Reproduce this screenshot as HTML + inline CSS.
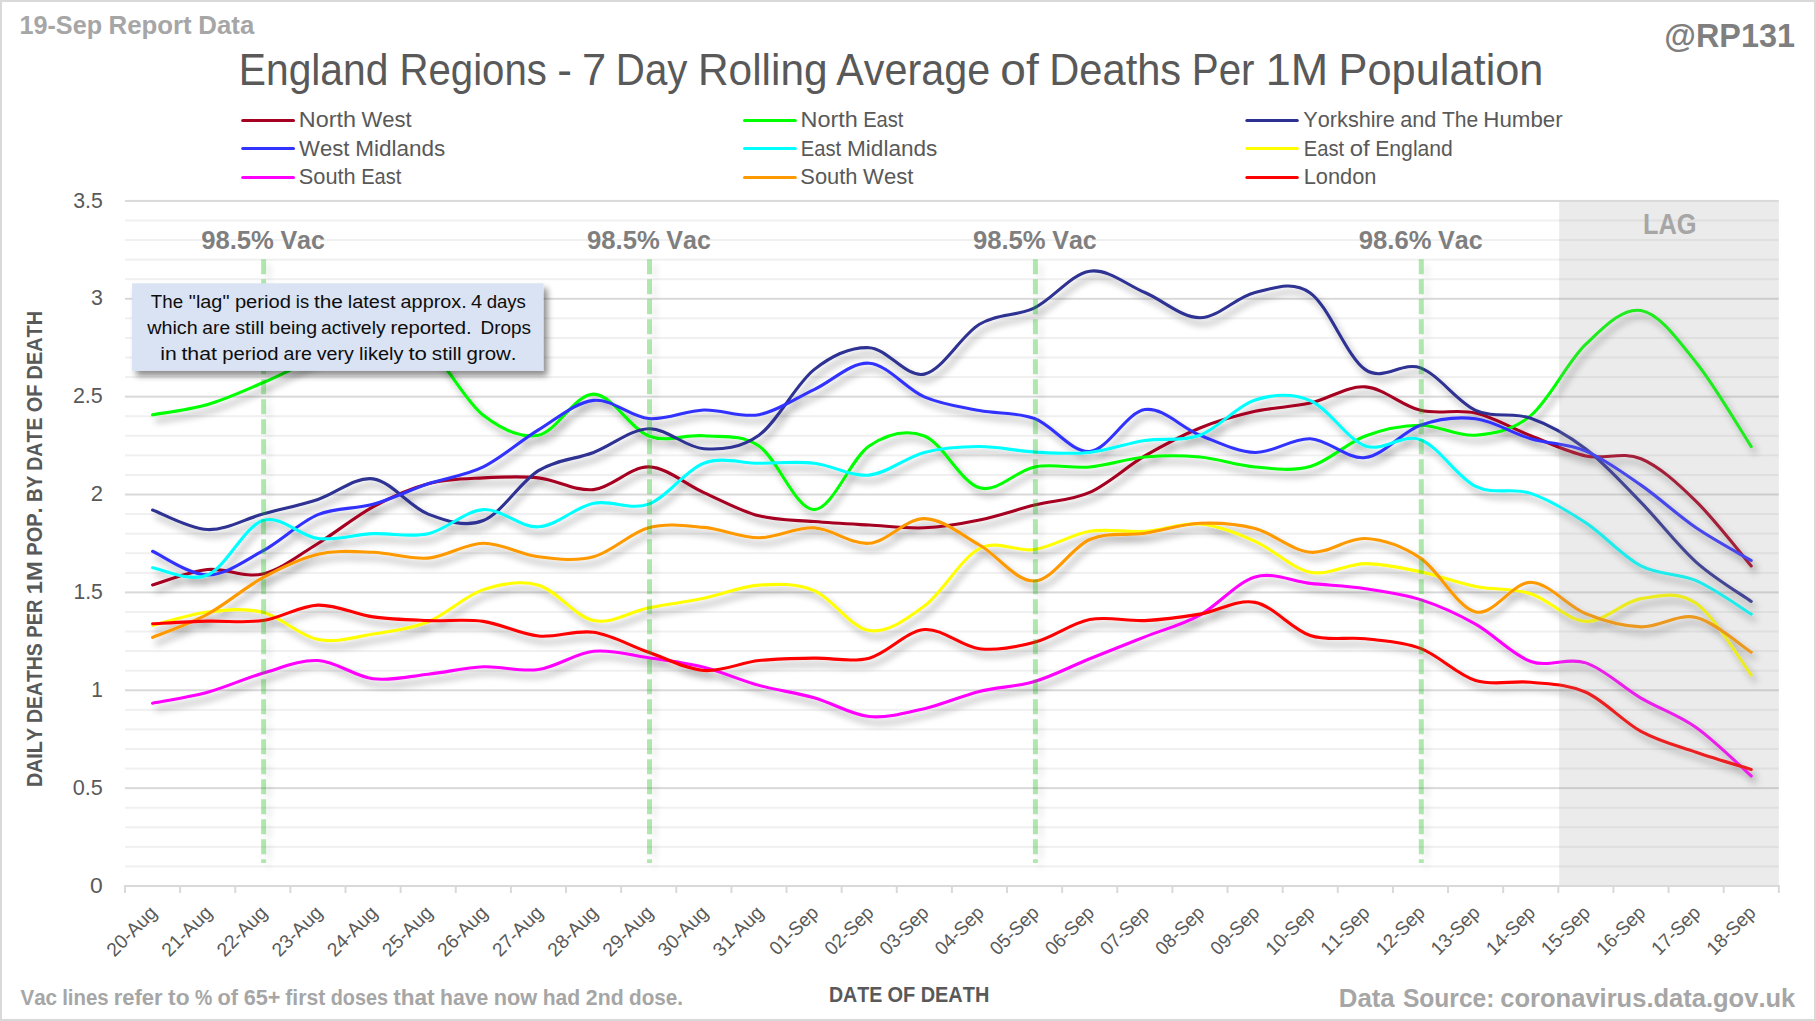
<!DOCTYPE html><html><head><meta charset="utf-8"><title>England Regions - 7 Day Rolling Average of Deaths Per 1M Population</title>
<style>html,body{margin:0;padding:0;background:#fff;}body{width:1816px;height:1021px;overflow:hidden;}svg{display:block;}text{font-family:'Liberation Sans', Arial, sans-serif;font-kerning:none;}</style></head><body>
<svg width="1816" height="1021" viewBox="0 0 1816 1021">
<defs><filter id="sh" x="-5%" y="-5%" width="110%" height="115%"><feGaussianBlur in="SourceAlpha" stdDeviation="3.6"/><feOffset dx="4" dy="6" result="b"/><feComponentTransfer><feFuncA type="linear" slope="0.36"/></feComponentTransfer><feMerge><feMergeNode/><feMergeNode in="SourceGraphic"/></feMerge></filter><filter id="shb" x="-10%" y="-10%" width="130%" height="140%"><feGaussianBlur in="SourceAlpha" stdDeviation="3"/><feOffset dx="4" dy="5"/><feComponentTransfer><feFuncA type="linear" slope="0.45"/></feComponentTransfer><feMerge><feMergeNode/><feMergeNode in="SourceGraphic"/></feMerge></filter><filter id="shv" x="-200%" y="-5%" width="500%" height="110%"><feGaussianBlur in="SourceAlpha" stdDeviation="3"/><feOffset dx="5" dy="5"/><feComponentTransfer><feFuncA type="linear" slope="0.25"/></feComponentTransfer><feMerge><feMergeNode/><feMergeNode in="SourceGraphic"/></feMerge></filter></defs>
<rect x="0" y="0" width="1816" height="1021" fill="#fff"/>
<rect x="125.0" y="865.43" width="1653.8" height="2" fill="#f0f0f0"/>
<rect x="125.0" y="845.85" width="1653.8" height="2" fill="#f0f0f0"/>
<rect x="125.0" y="826.28" width="1653.8" height="2" fill="#f0f0f0"/>
<rect x="125.0" y="806.70" width="1653.8" height="2" fill="#f0f0f0"/>
<rect x="125.0" y="787.13" width="1653.8" height="2" fill="#d9d9d9"/>
<rect x="125.0" y="767.56" width="1653.8" height="2" fill="#f0f0f0"/>
<rect x="125.0" y="747.98" width="1653.8" height="2" fill="#f0f0f0"/>
<rect x="125.0" y="728.41" width="1653.8" height="2" fill="#f0f0f0"/>
<rect x="125.0" y="708.83" width="1653.8" height="2" fill="#f0f0f0"/>
<rect x="125.0" y="689.26" width="1653.8" height="2" fill="#d9d9d9"/>
<rect x="125.0" y="669.69" width="1653.8" height="2" fill="#f0f0f0"/>
<rect x="125.0" y="650.11" width="1653.8" height="2" fill="#f0f0f0"/>
<rect x="125.0" y="630.54" width="1653.8" height="2" fill="#f0f0f0"/>
<rect x="125.0" y="610.96" width="1653.8" height="2" fill="#f0f0f0"/>
<rect x="125.0" y="591.39" width="1653.8" height="2" fill="#d9d9d9"/>
<rect x="125.0" y="571.82" width="1653.8" height="2" fill="#f0f0f0"/>
<rect x="125.0" y="552.24" width="1653.8" height="2" fill="#f0f0f0"/>
<rect x="125.0" y="532.67" width="1653.8" height="2" fill="#f0f0f0"/>
<rect x="125.0" y="513.09" width="1653.8" height="2" fill="#f0f0f0"/>
<rect x="125.0" y="493.52" width="1653.8" height="2" fill="#d9d9d9"/>
<rect x="125.0" y="473.95" width="1653.8" height="2" fill="#f0f0f0"/>
<rect x="125.0" y="454.37" width="1653.8" height="2" fill="#f0f0f0"/>
<rect x="125.0" y="434.80" width="1653.8" height="2" fill="#f0f0f0"/>
<rect x="125.0" y="415.22" width="1653.8" height="2" fill="#f0f0f0"/>
<rect x="125.0" y="395.65" width="1653.8" height="2" fill="#d9d9d9"/>
<rect x="125.0" y="376.08" width="1653.8" height="2" fill="#f0f0f0"/>
<rect x="125.0" y="356.50" width="1653.8" height="2" fill="#f0f0f0"/>
<rect x="125.0" y="336.93" width="1653.8" height="2" fill="#f0f0f0"/>
<rect x="125.0" y="317.35" width="1653.8" height="2" fill="#f0f0f0"/>
<rect x="125.0" y="297.78" width="1653.8" height="2" fill="#d9d9d9"/>
<rect x="125.0" y="278.21" width="1653.8" height="2" fill="#f0f0f0"/>
<rect x="125.0" y="258.63" width="1653.8" height="2" fill="#f0f0f0"/>
<rect x="125.0" y="239.06" width="1653.8" height="2" fill="#f0f0f0"/>
<rect x="125.0" y="219.48" width="1653.8" height="2" fill="#f0f0f0"/>
<rect x="125.0" y="199.91" width="1653.8" height="2" fill="#d9d9d9"/>
<rect x="124.0" y="885.00" width="1655.8" height="2" fill="#d9d9d9"/>
<rect x="124.00" y="886.00" width="2" height="7" fill="#d9d9d9"/>
<rect x="179.13" y="886.00" width="2" height="7" fill="#d9d9d9"/>
<rect x="234.25" y="886.00" width="2" height="7" fill="#d9d9d9"/>
<rect x="289.38" y="886.00" width="2" height="7" fill="#d9d9d9"/>
<rect x="344.51" y="886.00" width="2" height="7" fill="#d9d9d9"/>
<rect x="399.63" y="886.00" width="2" height="7" fill="#d9d9d9"/>
<rect x="454.76" y="886.00" width="2" height="7" fill="#d9d9d9"/>
<rect x="509.89" y="886.00" width="2" height="7" fill="#d9d9d9"/>
<rect x="565.01" y="886.00" width="2" height="7" fill="#d9d9d9"/>
<rect x="620.14" y="886.00" width="2" height="7" fill="#d9d9d9"/>
<rect x="675.27" y="886.00" width="2" height="7" fill="#d9d9d9"/>
<rect x="730.39" y="886.00" width="2" height="7" fill="#d9d9d9"/>
<rect x="785.52" y="886.00" width="2" height="7" fill="#d9d9d9"/>
<rect x="840.65" y="886.00" width="2" height="7" fill="#d9d9d9"/>
<rect x="895.77" y="886.00" width="2" height="7" fill="#d9d9d9"/>
<rect x="950.90" y="886.00" width="2" height="7" fill="#d9d9d9"/>
<rect x="1006.03" y="886.00" width="2" height="7" fill="#d9d9d9"/>
<rect x="1061.15" y="886.00" width="2" height="7" fill="#d9d9d9"/>
<rect x="1116.28" y="886.00" width="2" height="7" fill="#d9d9d9"/>
<rect x="1171.41" y="886.00" width="2" height="7" fill="#d9d9d9"/>
<rect x="1226.53" y="886.00" width="2" height="7" fill="#d9d9d9"/>
<rect x="1281.66" y="886.00" width="2" height="7" fill="#d9d9d9"/>
<rect x="1336.79" y="886.00" width="2" height="7" fill="#d9d9d9"/>
<rect x="1391.91" y="886.00" width="2" height="7" fill="#d9d9d9"/>
<rect x="1447.04" y="886.00" width="2" height="7" fill="#d9d9d9"/>
<rect x="1502.17" y="886.00" width="2" height="7" fill="#d9d9d9"/>
<rect x="1557.29" y="886.00" width="2" height="7" fill="#d9d9d9"/>
<rect x="1612.42" y="886.00" width="2" height="7" fill="#d9d9d9"/>
<rect x="1667.55" y="886.00" width="2" height="7" fill="#d9d9d9"/>
<rect x="1722.67" y="886.00" width="2" height="7" fill="#d9d9d9"/>
<rect x="1777.80" y="886.00" width="2" height="7" fill="#d9d9d9"/>
<g fill="none" stroke-width="3.1" stroke-linecap="round" stroke-linejoin="round" filter="url(#sh)">
<path d="M152.56 584.95 C161.75 582.37 189.31 571.32 207.69 569.49 C226.07 567.66 244.44 578.33 262.82 573.99 C281.19 569.65 299.57 554.64 317.94 543.45 C336.32 532.27 354.69 516.80 373.07 506.85 C391.45 496.90 409.82 488.58 428.20 483.75 C446.57 478.93 464.95 478.86 483.32 477.88 C501.70 476.90 520.07 475.92 538.45 477.88 C556.83 479.84 575.20 491.45 593.58 489.63 C611.95 487.80 630.33 466.43 648.70 466.92 C667.08 467.41 685.45 484.41 703.83 492.56 C722.21 500.72 740.58 511.03 758.96 515.86 C777.33 520.68 795.71 520.00 814.08 521.53 C832.46 523.07 850.83 524.01 869.21 525.06 C887.59 526.10 905.96 528.64 924.34 527.80 C942.71 526.95 961.09 523.75 979.46 519.97 C997.84 516.18 1016.21 509.69 1034.59 505.09 C1052.97 500.49 1071.34 500.56 1089.72 492.37 C1108.09 484.18 1126.47 466.69 1144.84 455.96 C1163.22 445.23 1181.59 435.41 1199.97 427.97 C1218.35 420.53 1236.72 415.47 1255.10 411.33 C1273.47 407.19 1291.85 407.19 1310.22 403.11 C1328.60 399.03 1346.97 385.66 1365.35 386.86 C1383.73 388.07 1402.10 405.98 1420.48 410.35 C1438.85 414.72 1457.23 408.85 1475.60 413.09 C1493.98 417.33 1512.35 428.65 1530.73 435.80 C1549.11 442.94 1567.48 452.14 1585.86 455.96 C1604.23 459.78 1622.61 451.13 1640.98 458.70 C1659.36 466.27 1677.73 483.49 1696.11 501.37 C1714.49 519.25 1742.05 555.20 1751.24 565.97" stroke="#a50021"/>
<path d="M152.56 414.85 C161.75 413.12 189.31 409.83 207.69 404.48 C226.07 399.13 244.44 390.58 262.82 382.75 C281.19 374.92 299.57 364.97 317.94 357.50 C336.32 350.03 354.69 339.23 373.07 337.93 C391.45 336.62 409.82 336.79 428.20 349.67 C446.57 362.56 464.95 400.99 483.32 415.25 C501.70 429.50 520.07 438.73 538.45 435.21 C556.83 431.69 575.20 393.97 593.58 394.11 C611.95 394.24 630.33 429.04 648.70 435.99 C667.08 442.94 685.45 434.13 703.83 435.80 C722.21 437.46 740.58 433.68 758.96 445.98 C777.33 458.28 795.71 509.59 814.08 509.59 C832.46 509.59 850.83 458.24 869.21 445.98 C887.59 433.71 905.96 429.01 924.34 435.99 C942.71 442.98 961.09 482.71 979.46 487.86 C997.84 493.02 1016.21 470.41 1034.59 466.92 C1052.97 463.43 1071.34 468.58 1089.72 466.92 C1108.09 465.26 1126.47 458.60 1144.84 456.94 C1163.22 455.27 1181.59 455.27 1199.97 456.94 C1218.35 458.60 1236.72 465.32 1255.10 466.92 C1273.47 468.52 1291.85 471.68 1310.22 466.53 C1328.60 461.37 1346.97 442.88 1365.35 435.99 C1383.73 429.11 1402.10 425.36 1420.48 425.23 C1438.85 425.10 1457.23 436.81 1475.60 435.21 C1493.98 433.61 1512.35 430.81 1530.73 415.64 C1549.11 400.47 1567.48 361.71 1585.86 344.19 C1604.23 326.67 1622.61 307.49 1640.98 310.52 C1659.36 313.56 1677.73 339.72 1696.11 362.40 C1714.49 385.07 1742.05 432.54 1751.24 446.56" stroke="#00ff00"/>
<path d="M152.56 509.98 C161.75 513.25 189.31 528.87 207.69 529.56 C226.07 530.24 244.44 519.12 262.82 514.09 C281.19 509.07 299.57 505.29 317.94 499.41 C336.32 493.54 354.69 476.41 373.07 478.86 C391.45 481.31 409.82 507.15 428.20 514.09 C446.57 521.04 464.95 527.80 483.32 520.55 C501.70 513.31 520.07 481.99 538.45 470.64 C556.83 459.29 575.20 459.42 593.58 452.44 C611.95 445.45 630.33 429.37 648.70 428.75 C667.08 428.13 685.45 447.64 703.83 448.72 C722.21 449.79 740.58 448.39 758.96 435.21 C777.33 422.03 795.71 384.22 814.08 369.64 C832.46 355.06 850.83 346.96 869.21 347.71 C887.59 348.47 905.96 378.05 924.34 374.14 C942.71 370.23 961.09 335.29 979.46 324.23 C997.84 313.17 1016.21 316.62 1034.59 307.78 C1052.97 298.94 1071.34 273.73 1089.72 271.18 C1108.09 268.64 1126.47 284.75 1144.84 292.52 C1163.22 300.28 1181.59 317.77 1199.97 317.77 C1218.35 317.77 1236.72 296.66 1255.10 292.52 C1273.47 288.37 1291.85 280.05 1310.22 292.91 C1328.60 305.76 1346.97 357.14 1365.35 369.64 C1383.73 382.13 1402.10 361.09 1420.48 367.88 C1438.85 374.66 1457.23 401.97 1475.60 410.35 C1493.98 418.74 1512.35 411.75 1530.73 418.18 C1549.11 424.61 1567.48 434.88 1585.86 448.91 C1604.23 462.94 1622.61 483.49 1640.98 502.35 C1659.36 521.21 1677.73 545.54 1696.11 562.05 C1714.49 578.56 1742.05 594.84 1751.24 601.39" stroke="#2e3192"/>
<path d="M152.56 551.28 C161.75 555.23 189.31 575.03 207.69 574.97 C226.07 574.90 244.44 560.94 262.82 550.89 C281.19 540.85 299.57 522.45 317.94 514.68 C336.32 506.92 354.69 509.46 373.07 504.31 C391.45 499.15 409.82 489.99 428.20 483.75 C446.57 477.52 464.95 475.89 483.32 466.92 C501.70 457.95 520.07 441.02 538.45 429.93 C556.83 418.83 575.20 402.26 593.58 400.37 C611.95 398.48 630.33 416.97 648.70 418.57 C667.08 420.17 685.45 410.61 703.83 409.96 C722.21 409.31 740.58 418.05 758.96 414.66 C777.33 411.27 795.71 398.18 814.08 389.60 C832.46 381.02 850.83 361.97 869.21 363.18 C887.59 364.39 905.96 388.95 924.34 396.85 C942.71 404.74 961.09 406.93 979.46 410.55 C997.84 414.17 1016.21 411.75 1034.59 418.57 C1052.97 425.39 1071.34 452.96 1089.72 451.46 C1108.09 449.96 1126.47 412.28 1144.84 409.57 C1163.22 406.86 1181.59 428.07 1199.97 435.21 C1218.35 442.36 1236.72 451.85 1255.10 452.44 C1273.47 453.02 1291.85 437.89 1310.22 438.73 C1328.60 439.58 1346.97 459.78 1365.35 457.53 C1383.73 455.27 1402.10 431.69 1420.48 425.23 C1438.85 418.77 1457.23 416.52 1475.60 418.77 C1493.98 421.02 1512.35 433.35 1530.73 438.73 C1549.11 444.12 1567.48 443.33 1585.86 451.07 C1604.23 458.80 1622.61 472.34 1640.98 485.12 C1659.36 497.91 1677.73 515.24 1696.11 527.80 C1714.49 540.36 1742.05 555.04 1751.24 560.48" stroke="#3333ff"/>
<path d="M152.56 567.73 C161.75 568.93 189.31 582.83 207.69 574.97 C226.07 567.11 244.44 526.62 262.82 520.55 C281.19 514.49 299.57 536.38 317.94 538.56 C336.32 540.75 354.69 534.48 373.07 533.67 C391.45 532.85 409.82 537.68 428.20 533.67 C446.57 529.66 464.95 510.73 483.32 509.59 C501.70 508.45 520.07 527.86 538.45 526.82 C556.83 525.77 575.20 507.11 593.58 503.33 C611.95 499.54 630.33 510.80 648.70 504.11 C667.08 497.42 685.45 470.02 703.83 463.20 C722.21 456.38 740.58 463.20 758.96 463.20 C777.33 463.20 795.71 461.21 814.08 463.20 C832.46 465.19 850.83 476.94 869.21 475.14 C887.59 473.35 905.96 457.20 924.34 452.44 C942.71 447.67 961.09 446.63 979.46 446.56 C997.84 446.50 1016.21 451.07 1034.59 452.04 C1052.97 453.02 1071.34 454.36 1089.72 452.44 C1108.09 450.51 1126.47 443.37 1144.84 440.50 C1163.22 437.62 1181.59 441.96 1199.97 435.21 C1218.35 428.46 1236.72 405.75 1255.10 399.98 C1273.47 394.20 1291.85 392.90 1310.22 400.56 C1328.60 408.23 1346.97 439.45 1365.35 445.98 C1383.73 452.50 1402.10 432.99 1420.48 439.71 C1438.85 446.43 1457.23 477.36 1475.60 486.30 C1493.98 495.24 1512.35 487.24 1530.73 493.35 C1549.11 499.45 1567.48 510.80 1585.86 522.90 C1604.23 535.01 1622.61 556.34 1640.98 565.97 C1659.36 575.59 1677.73 572.62 1696.11 580.65 C1714.49 588.67 1742.05 608.54 1751.24 614.12" stroke="#00ffff"/>
<path d="M152.56 625.47 C161.75 623.22 189.31 614.15 207.69 611.96 C226.07 609.78 244.44 607.76 262.82 612.36 C281.19 616.96 299.57 635.94 317.94 639.56 C336.32 643.18 354.69 637.05 373.07 634.08 C391.45 631.11 409.82 629.16 428.20 621.75 C446.57 614.35 464.95 595.75 483.32 589.65 C501.70 583.55 520.07 579.99 538.45 585.15 C556.83 590.30 575.20 616.79 593.58 620.58 C611.95 624.36 630.33 611.57 648.70 607.85 C667.08 604.13 685.45 602.05 703.83 598.26 C722.21 594.48 740.58 586.42 758.96 585.15 C777.33 583.88 795.71 583.06 814.08 590.63 C832.46 598.20 850.83 627.98 869.21 630.56 C887.59 633.14 905.96 619.76 924.34 606.09 C942.71 592.42 961.09 557.97 979.46 548.54 C997.84 539.12 1016.21 552.39 1034.59 549.52 C1052.97 546.65 1071.34 534.35 1089.72 531.32 C1108.09 528.29 1126.47 532.53 1144.84 531.32 C1163.22 530.11 1181.59 522.41 1199.97 524.08 C1218.35 525.74 1236.72 533.28 1255.10 541.30 C1273.47 549.33 1291.85 568.51 1310.22 572.23 C1328.60 575.95 1346.97 563.68 1365.35 563.62 C1383.73 563.55 1402.10 568.02 1420.48 571.84 C1438.85 575.65 1457.23 582.86 1475.60 586.52 C1493.98 590.17 1512.35 587.95 1530.73 593.76 C1549.11 599.57 1567.48 620.54 1585.86 621.36 C1604.23 622.18 1622.61 601.66 1640.98 598.65 C1659.36 595.65 1677.73 590.63 1696.11 603.35 C1714.49 616.07 1742.05 663.05 1751.24 674.99" stroke="#ffff00"/>
<path d="M152.56 703.18 C161.75 701.35 189.31 697.21 207.69 692.22 C226.07 687.23 244.44 678.52 262.82 673.23 C281.19 667.95 299.57 659.59 317.94 660.51 C336.32 661.42 354.69 676.43 373.07 678.71 C391.45 680.99 409.82 676.20 428.20 674.21 C446.57 672.22 464.95 667.55 483.32 666.77 C501.70 665.99 520.07 672.09 538.45 669.51 C556.83 666.93 575.20 653.27 593.58 651.31 C611.95 649.35 630.33 655.09 648.70 657.77 C667.08 660.44 685.45 662.76 703.83 667.36 C722.21 671.96 740.58 680.31 758.96 685.37 C777.33 690.42 795.71 692.51 814.08 697.70 C832.46 702.89 850.83 714.66 869.21 716.49 C887.59 718.32 905.96 712.84 924.34 708.66 C942.71 704.48 961.09 695.97 979.46 691.43 C997.84 686.90 1016.21 686.90 1034.59 681.45 C1052.97 676.00 1071.34 666.18 1089.72 658.75 C1108.09 651.31 1126.47 644.10 1144.84 636.82 C1163.22 629.55 1181.59 625.08 1199.97 615.10 C1218.35 605.11 1236.72 582.21 1255.10 576.93 C1273.47 571.64 1291.85 581.43 1310.22 583.39 C1328.60 585.34 1346.97 585.96 1365.35 588.67 C1383.73 591.38 1402.10 593.73 1420.48 599.63 C1438.85 605.54 1457.23 613.79 1475.60 624.10 C1493.98 634.41 1512.35 655.03 1530.73 661.49 C1549.11 667.95 1567.48 656.76 1585.86 662.86 C1604.23 668.96 1622.61 687.32 1640.98 698.09 C1659.36 708.86 1677.73 714.47 1696.11 727.45 C1714.49 740.43 1742.05 767.90 1751.24 775.99" stroke="#ff00ff"/>
<path d="M152.56 637.41 C161.75 633.53 189.31 624.07 207.69 614.12 C226.07 604.17 244.44 587.69 262.82 577.71 C281.19 567.73 299.57 558.46 317.94 554.22 C336.32 549.98 354.69 551.61 373.07 552.26 C391.45 552.92 409.82 559.64 428.20 558.14 C446.57 556.63 464.95 543.49 483.32 543.26 C501.70 543.03 520.07 554.51 538.45 556.77 C556.83 559.02 575.20 561.59 593.58 556.77 C611.95 551.94 630.33 532.69 648.70 527.80 C667.08 522.90 685.45 525.74 703.83 527.40 C722.21 529.07 740.58 537.71 758.96 537.78 C777.33 537.84 795.71 526.88 814.08 527.80 C832.46 528.71 850.83 544.79 869.21 543.26 C887.59 541.73 905.96 518.30 924.34 518.60 C942.71 518.89 961.09 534.61 979.46 545.02 C997.84 555.43 1016.21 581.95 1034.59 581.04 C1052.97 580.12 1071.34 547.50 1089.72 539.54 C1108.09 531.58 1126.47 535.98 1144.84 533.28 C1163.22 530.57 1181.59 524.08 1199.97 523.29 C1218.35 522.51 1236.72 523.75 1255.10 528.58 C1273.47 533.41 1291.85 550.60 1310.22 552.26 C1328.60 553.93 1346.97 537.58 1365.35 538.56 C1383.73 539.54 1402.10 545.90 1420.48 558.14 C1438.85 570.37 1457.23 607.92 1475.60 611.96 C1493.98 616.01 1512.35 582.11 1530.73 582.41 C1549.11 582.70 1567.48 606.32 1585.86 613.73 C1604.23 621.13 1622.61 626.22 1640.98 626.84 C1659.36 627.46 1677.73 613.20 1696.11 617.44 C1714.49 621.69 1742.05 646.48 1751.24 652.29" stroke="#ff9900"/>
<path d="M152.56 623.71 C161.75 623.28 189.31 621.69 207.69 621.16 C226.07 620.64 244.44 623.25 262.82 620.58 C281.19 617.90 299.57 605.73 317.94 605.11 C336.32 604.49 354.69 614.28 373.07 616.86 C391.45 619.43 409.82 619.83 428.20 620.58 C446.57 621.33 464.95 618.78 483.32 621.36 C501.70 623.94 520.07 634.21 538.45 636.04 C556.83 637.87 575.20 629.61 593.58 632.32 C611.95 635.03 630.33 645.92 648.70 652.29 C667.08 658.65 685.45 669.12 703.83 670.49 C722.21 671.86 740.58 662.56 758.96 660.51 C777.33 658.45 795.71 658.55 814.08 658.16 C832.46 657.77 850.83 662.92 869.21 658.16 C887.59 653.40 905.96 631.15 924.34 629.58 C942.71 628.01 961.09 646.64 979.46 648.76 C997.84 650.88 1016.21 647.16 1034.59 642.30 C1052.97 637.44 1071.34 623.22 1089.72 619.60 C1108.09 615.98 1126.47 621.49 1144.84 620.58 C1163.22 619.66 1181.59 617.15 1199.97 614.12 C1218.35 611.08 1236.72 598.82 1255.10 602.37 C1273.47 605.93 1291.85 629.38 1310.22 635.45 C1328.60 641.52 1346.97 636.63 1365.35 638.78 C1383.73 640.93 1402.10 641.42 1420.48 648.37 C1438.85 655.32 1457.23 674.83 1475.60 680.47 C1493.98 686.12 1512.35 680.28 1530.73 682.23 C1549.11 684.19 1567.48 684.03 1585.86 692.22 C1604.23 700.41 1622.61 721.35 1640.98 731.37 C1659.36 741.38 1677.73 745.95 1696.11 752.31 C1714.49 758.67 1742.05 766.66 1751.24 769.53" stroke="#ff0000"/>
</g>
<rect x="1559.20" y="201.91" width="219.60" height="683.09" fill="#9b9b9b" fill-opacity="0.2"/>
<text x="1642.90" y="234.00" font-size="28.92" fill="#a6a6a6" font-weight="bold" textLength="53.57" lengthAdjust="spacingAndGlyphs">LAG</text>
<g filter="url(#shv)">
<line x1="263.62" y1="259.3" x2="263.62" y2="862.9" stroke="#00b400" stroke-opacity="0.31" stroke-width="5" stroke-dasharray="15 5"/>
<line x1="649.50" y1="259.3" x2="649.50" y2="862.9" stroke="#00b400" stroke-opacity="0.31" stroke-width="5" stroke-dasharray="15 5"/>
<line x1="1035.39" y1="259.3" x2="1035.39" y2="862.9" stroke="#00b400" stroke-opacity="0.31" stroke-width="5" stroke-dasharray="15 5"/>
<line x1="1421.28" y1="259.3" x2="1421.28" y2="862.9" stroke="#00b400" stroke-opacity="0.31" stroke-width="5" stroke-dasharray="15 5"/>
</g>
<text x="201.13" y="248.80" font-size="25.73" fill="#7f7f7f" font-weight="bold" textLength="72.80" lengthAdjust="spacingAndGlyphs">98.5%</text><text x="280.43" y="248.80" font-size="25.73" fill="#7f7f7f" font-weight="bold" textLength="44.52" lengthAdjust="spacingAndGlyphs">Vac</text>
<text x="587.01" y="248.80" font-size="25.73" fill="#7f7f7f" font-weight="bold" textLength="72.80" lengthAdjust="spacingAndGlyphs">98.5%</text><text x="666.31" y="248.80" font-size="25.73" fill="#7f7f7f" font-weight="bold" textLength="44.52" lengthAdjust="spacingAndGlyphs">Vac</text>
<text x="972.90" y="248.80" font-size="25.73" fill="#7f7f7f" font-weight="bold" textLength="72.80" lengthAdjust="spacingAndGlyphs">98.5%</text><text x="1052.20" y="248.80" font-size="25.73" fill="#7f7f7f" font-weight="bold" textLength="44.52" lengthAdjust="spacingAndGlyphs">Vac</text>
<text x="1358.79" y="248.80" font-size="25.73" fill="#7f7f7f" font-weight="bold" textLength="72.80" lengthAdjust="spacingAndGlyphs">98.6%</text><text x="1438.09" y="248.80" font-size="25.73" fill="#7f7f7f" font-weight="bold" textLength="44.52" lengthAdjust="spacingAndGlyphs">Vac</text>
<rect x="132.1" y="283.3" width="411.4" height="87.6" fill="#dae3f3" filter="url(#shb)"/>
<text x="150.78" y="308.00" font-size="18.75" fill="#0d0d0d" textLength="32.33" lengthAdjust="spacingAndGlyphs">The</text><text x="188.85" y="308.00" font-size="18.75" fill="#0d0d0d" textLength="40.61" lengthAdjust="spacingAndGlyphs">"lag"</text><text x="234.91" y="308.00" font-size="18.75" fill="#0d0d0d" textLength="56.03" lengthAdjust="spacingAndGlyphs">period</text><text x="295.86" y="308.00" font-size="18.75" fill="#0d0d0d" textLength="13.22" lengthAdjust="spacingAndGlyphs">is</text><text x="313.97" y="308.00" font-size="18.75" fill="#0d0d0d" textLength="28.98" lengthAdjust="spacingAndGlyphs">the</text><text x="347.77" y="308.00" font-size="18.75" fill="#0d0d0d" textLength="47.77" lengthAdjust="spacingAndGlyphs">latest</text><text x="400.61" y="308.00" font-size="18.75" fill="#0d0d0d" textLength="66.06" lengthAdjust="spacingAndGlyphs">approx.</text><text x="470.97" y="308.00" font-size="18.75" fill="#0d0d0d" textLength="11.10" lengthAdjust="spacingAndGlyphs">4</text><text x="486.63" y="308.00" font-size="18.75" fill="#0d0d0d" textLength="39.24" lengthAdjust="spacingAndGlyphs">days</text>
<text x="147.23" y="333.80" font-size="18.75" fill="#0d0d0d" textLength="50.37" lengthAdjust="spacingAndGlyphs">which</text><text x="202.37" y="333.80" font-size="18.75" fill="#0d0d0d" textLength="27.79" lengthAdjust="spacingAndGlyphs">are</text><text x="234.95" y="333.80" font-size="18.75" fill="#0d0d0d" textLength="29.31" lengthAdjust="spacingAndGlyphs">still</text><text x="269.35" y="333.80" font-size="18.75" fill="#0d0d0d" textLength="47.74" lengthAdjust="spacingAndGlyphs">being</text><text x="320.96" y="333.80" font-size="18.75" fill="#0d0d0d" textLength="64.70" lengthAdjust="spacingAndGlyphs">actively</text><text x="390.49" y="333.80" font-size="18.75" fill="#0d0d0d" textLength="81.22" lengthAdjust="spacingAndGlyphs">reported.</text><text x="480.58" y="333.80" font-size="18.75" fill="#0d0d0d" textLength="50.51" lengthAdjust="spacingAndGlyphs">Drops</text>
<text x="160.19" y="359.70" font-size="18.75" fill="#0d0d0d" textLength="16.46" lengthAdjust="spacingAndGlyphs">in</text><text x="181.44" y="359.70" font-size="18.75" fill="#0d0d0d" textLength="35.51" lengthAdjust="spacingAndGlyphs">that</text><text x="222.16" y="359.70" font-size="18.75" fill="#0d0d0d" textLength="56.32" lengthAdjust="spacingAndGlyphs">period</text><text x="283.55" y="359.70" font-size="18.75" fill="#0d0d0d" textLength="28.36" lengthAdjust="spacingAndGlyphs">are</text><text x="316.78" y="359.70" font-size="18.75" fill="#0d0d0d" textLength="37.15" lengthAdjust="spacingAndGlyphs">very</text><text x="359.05" y="359.70" font-size="18.75" fill="#0d0d0d" textLength="44.42" lengthAdjust="spacingAndGlyphs">likely</text><text x="408.42" y="359.70" font-size="18.75" fill="#0d0d0d" textLength="18.55" lengthAdjust="spacingAndGlyphs">to</text><text x="431.80" y="359.70" font-size="18.75" fill="#0d0d0d" textLength="29.91" lengthAdjust="spacingAndGlyphs">still</text><text x="466.50" y="359.70" font-size="18.75" fill="#0d0d0d" textLength="50.07" lengthAdjust="spacingAndGlyphs">grow.</text>
<text x="90.09" y="892.60" font-size="21.51" fill="#595959" textLength="12.71" lengthAdjust="spacingAndGlyphs">0</text>
<text x="72.71" y="794.73" font-size="21.51" fill="#595959" textLength="30.10" lengthAdjust="spacingAndGlyphs">0.5</text>
<text x="91.30" y="696.86" font-size="21.51" fill="#595959" textLength="11.62" lengthAdjust="spacingAndGlyphs">1</text>
<text x="73.39" y="598.99" font-size="21.51" fill="#595959" textLength="29.39" lengthAdjust="spacingAndGlyphs">1.5</text>
<text x="90.72" y="501.12" font-size="21.51" fill="#595959" textLength="12.29" lengthAdjust="spacingAndGlyphs">2</text>
<text x="72.93" y="403.25" font-size="21.51" fill="#595959" textLength="29.87" lengthAdjust="spacingAndGlyphs">2.5</text>
<text x="90.95" y="305.38" font-size="21.51" fill="#595959" textLength="11.89" lengthAdjust="spacingAndGlyphs">3</text>
<text x="73.23" y="207.51" font-size="21.51" fill="#595959" textLength="29.56" lengthAdjust="spacingAndGlyphs">3.5</text>
<text transform="translate(158.06 914.00) rotate(-45)" x="0" y="0" font-size="19.40" fill="#595959" text-anchor="end" textLength="61.74" lengthAdjust="spacingAndGlyphs">20-Aug</text>
<text transform="translate(213.19 914.00) rotate(-45)" x="0" y="0" font-size="19.40" fill="#595959" text-anchor="end" textLength="61.74" lengthAdjust="spacingAndGlyphs">21-Aug</text>
<text transform="translate(268.32 914.00) rotate(-45)" x="0" y="0" font-size="19.40" fill="#595959" text-anchor="end" textLength="61.74" lengthAdjust="spacingAndGlyphs">22-Aug</text>
<text transform="translate(323.44 914.00) rotate(-45)" x="0" y="0" font-size="19.40" fill="#595959" text-anchor="end" textLength="61.74" lengthAdjust="spacingAndGlyphs">23-Aug</text>
<text transform="translate(378.57 914.00) rotate(-45)" x="0" y="0" font-size="19.40" fill="#595959" text-anchor="end" textLength="61.74" lengthAdjust="spacingAndGlyphs">24-Aug</text>
<text transform="translate(433.70 914.00) rotate(-45)" x="0" y="0" font-size="19.40" fill="#595959" text-anchor="end" textLength="61.74" lengthAdjust="spacingAndGlyphs">25-Aug</text>
<text transform="translate(488.82 914.00) rotate(-45)" x="0" y="0" font-size="19.40" fill="#595959" text-anchor="end" textLength="61.74" lengthAdjust="spacingAndGlyphs">26-Aug</text>
<text transform="translate(543.95 914.00) rotate(-45)" x="0" y="0" font-size="19.40" fill="#595959" text-anchor="end" textLength="61.74" lengthAdjust="spacingAndGlyphs">27-Aug</text>
<text transform="translate(599.08 914.00) rotate(-45)" x="0" y="0" font-size="19.40" fill="#595959" text-anchor="end" textLength="61.74" lengthAdjust="spacingAndGlyphs">28-Aug</text>
<text transform="translate(654.20 914.00) rotate(-45)" x="0" y="0" font-size="19.40" fill="#595959" text-anchor="end" textLength="61.74" lengthAdjust="spacingAndGlyphs">29-Aug</text>
<text transform="translate(709.33 914.00) rotate(-45)" x="0" y="0" font-size="19.40" fill="#595959" text-anchor="end" textLength="61.74" lengthAdjust="spacingAndGlyphs">30-Aug</text>
<text transform="translate(764.46 914.00) rotate(-45)" x="0" y="0" font-size="19.40" fill="#595959" text-anchor="end" textLength="61.74" lengthAdjust="spacingAndGlyphs">31-Aug</text>
<text transform="translate(819.58 914.00) rotate(-45)" x="0" y="0" font-size="19.40" fill="#595959" text-anchor="end" textLength="59.77" lengthAdjust="spacingAndGlyphs">01-Sep</text>
<text transform="translate(874.71 914.00) rotate(-45)" x="0" y="0" font-size="19.40" fill="#595959" text-anchor="end" textLength="59.77" lengthAdjust="spacingAndGlyphs">02-Sep</text>
<text transform="translate(929.84 914.00) rotate(-45)" x="0" y="0" font-size="19.40" fill="#595959" text-anchor="end" textLength="59.77" lengthAdjust="spacingAndGlyphs">03-Sep</text>
<text transform="translate(984.96 914.00) rotate(-45)" x="0" y="0" font-size="19.40" fill="#595959" text-anchor="end" textLength="59.77" lengthAdjust="spacingAndGlyphs">04-Sep</text>
<text transform="translate(1040.09 914.00) rotate(-45)" x="0" y="0" font-size="19.40" fill="#595959" text-anchor="end" textLength="59.77" lengthAdjust="spacingAndGlyphs">05-Sep</text>
<text transform="translate(1095.22 914.00) rotate(-45)" x="0" y="0" font-size="19.40" fill="#595959" text-anchor="end" textLength="59.77" lengthAdjust="spacingAndGlyphs">06-Sep</text>
<text transform="translate(1150.34 914.00) rotate(-45)" x="0" y="0" font-size="19.40" fill="#595959" text-anchor="end" textLength="59.77" lengthAdjust="spacingAndGlyphs">07-Sep</text>
<text transform="translate(1205.47 914.00) rotate(-45)" x="0" y="0" font-size="19.40" fill="#595959" text-anchor="end" textLength="59.77" lengthAdjust="spacingAndGlyphs">08-Sep</text>
<text transform="translate(1260.60 914.00) rotate(-45)" x="0" y="0" font-size="19.40" fill="#595959" text-anchor="end" textLength="59.77" lengthAdjust="spacingAndGlyphs">09-Sep</text>
<text transform="translate(1315.72 914.00) rotate(-45)" x="0" y="0" font-size="19.40" fill="#595959" text-anchor="end" textLength="59.77" lengthAdjust="spacingAndGlyphs">10-Sep</text>
<text transform="translate(1370.85 914.00) rotate(-45)" x="0" y="0" font-size="19.40" fill="#595959" text-anchor="end" textLength="59.77" lengthAdjust="spacingAndGlyphs">11-Sep</text>
<text transform="translate(1425.98 914.00) rotate(-45)" x="0" y="0" font-size="19.40" fill="#595959" text-anchor="end" textLength="59.77" lengthAdjust="spacingAndGlyphs">12-Sep</text>
<text transform="translate(1481.10 914.00) rotate(-45)" x="0" y="0" font-size="19.40" fill="#595959" text-anchor="end" textLength="59.77" lengthAdjust="spacingAndGlyphs">13-Sep</text>
<text transform="translate(1536.23 914.00) rotate(-45)" x="0" y="0" font-size="19.40" fill="#595959" text-anchor="end" textLength="59.77" lengthAdjust="spacingAndGlyphs">14-Sep</text>
<text transform="translate(1591.36 914.00) rotate(-45)" x="0" y="0" font-size="19.40" fill="#595959" text-anchor="end" textLength="59.77" lengthAdjust="spacingAndGlyphs">15-Sep</text>
<text transform="translate(1646.48 914.00) rotate(-45)" x="0" y="0" font-size="19.40" fill="#595959" text-anchor="end" textLength="59.77" lengthAdjust="spacingAndGlyphs">16-Sep</text>
<text transform="translate(1701.61 914.00) rotate(-45)" x="0" y="0" font-size="19.40" fill="#595959" text-anchor="end" textLength="59.77" lengthAdjust="spacingAndGlyphs">17-Sep</text>
<text transform="translate(1756.74 914.00) rotate(-45)" x="0" y="0" font-size="19.40" fill="#595959" text-anchor="end" textLength="59.77" lengthAdjust="spacingAndGlyphs">18-Sep</text>
<text x="19.41" y="33.80" font-size="26.16" fill="#a6a6a6" font-weight="bold" textLength="82.68" lengthAdjust="spacingAndGlyphs">19-Sep</text><text x="108.54" y="33.80" font-size="26.16" fill="#a6a6a6" font-weight="bold" textLength="83.14" lengthAdjust="spacingAndGlyphs">Report</text><text x="198.35" y="33.80" font-size="26.16" fill="#a6a6a6" font-weight="bold" textLength="55.89" lengthAdjust="spacingAndGlyphs">Data</text>
<text x="238.76" y="85.20" font-size="44.04" fill="#595959" textLength="149.65" lengthAdjust="spacingAndGlyphs">England</text><text x="399.53" y="85.20" font-size="44.04" fill="#595959" textLength="147.33" lengthAdjust="spacingAndGlyphs">Regions</text><text x="557.17" y="85.20" font-size="44.04" fill="#595959" textLength="14.74" lengthAdjust="spacingAndGlyphs">-</text><text x="582.07" y="85.20" font-size="44.04" fill="#595959" textLength="24.18" lengthAdjust="spacingAndGlyphs">7</text><text x="615.87" y="85.20" font-size="44.04" fill="#595959" textLength="71.55" lengthAdjust="spacingAndGlyphs">Day</text><text x="697.97" y="85.20" font-size="44.04" fill="#595959" textLength="129.65" lengthAdjust="spacingAndGlyphs">Rolling</text><text x="836.27" y="85.20" font-size="44.04" fill="#595959" textLength="153.98" lengthAdjust="spacingAndGlyphs">Average</text><text x="1000.32" y="85.20" font-size="44.04" fill="#595959" textLength="38.41" lengthAdjust="spacingAndGlyphs">of</text><text x="1049.31" y="85.20" font-size="44.04" fill="#595959" textLength="131.88" lengthAdjust="spacingAndGlyphs">Deaths</text><text x="1191.72" y="85.20" font-size="44.04" fill="#595959" textLength="62.86" lengthAdjust="spacingAndGlyphs">Per</text><text x="1265.87" y="85.20" font-size="44.04" fill="#595959" textLength="62.39" lengthAdjust="spacingAndGlyphs">1M</text><text x="1338.59" y="85.20" font-size="44.04" fill="#595959" textLength="204.92" lengthAdjust="spacingAndGlyphs">Population</text>
<text x="1664.35" y="46.60" font-size="33.58" fill="#7f7f7f" font-weight="bold" textLength="130.65" lengthAdjust="spacingAndGlyphs">@RP131</text>
<line x1="242.7" y1="120.5" x2="293.5" y2="120.5" stroke="#a50021" stroke-width="3" stroke-linecap="round"/>
<text x="298.88" y="126.80" font-size="21.80" fill="#595959" textLength="57.18" lengthAdjust="spacingAndGlyphs">North</text><text x="361.45" y="126.80" font-size="21.80" fill="#595959" textLength="50.21" lengthAdjust="spacingAndGlyphs">West</text>
<line x1="744.5" y1="120.5" x2="795.3" y2="120.5" stroke="#00ff00" stroke-width="3" stroke-linecap="round"/>
<text x="800.48" y="126.80" font-size="21.80" fill="#595959" textLength="57.32" lengthAdjust="spacingAndGlyphs">North</text><text x="863.20" y="126.80" font-size="21.80" fill="#595959" textLength="40.25" lengthAdjust="spacingAndGlyphs">East</text>
<line x1="1246.8" y1="120.5" x2="1297.3" y2="120.5" stroke="#2e3192" stroke-width="3" stroke-linecap="round"/>
<text x="1303.32" y="126.80" font-size="21.80" fill="#595959" textLength="91.54" lengthAdjust="spacingAndGlyphs">Yorkshire</text><text x="1400.22" y="126.80" font-size="21.80" fill="#595959" textLength="36.18" lengthAdjust="spacingAndGlyphs">and</text><text x="1441.88" y="126.80" font-size="21.80" fill="#595959" textLength="36.32" lengthAdjust="spacingAndGlyphs">The</text><text x="1483.33" y="126.80" font-size="21.80" fill="#595959" textLength="79.34" lengthAdjust="spacingAndGlyphs">Humber</text>
<line x1="242.7" y1="148.5" x2="293.5" y2="148.5" stroke="#3333ff" stroke-width="3" stroke-linecap="round"/>
<text x="299.11" y="155.50" font-size="21.80" fill="#595959" textLength="50.36" lengthAdjust="spacingAndGlyphs">West</text><text x="355.26" y="155.50" font-size="21.80" fill="#595959" textLength="90.05" lengthAdjust="spacingAndGlyphs">Midlands</text>
<line x1="744.5" y1="148.5" x2="795.3" y2="148.5" stroke="#00ffff" stroke-width="3" stroke-linecap="round"/>
<text x="800.71" y="155.50" font-size="21.80" fill="#595959" textLength="40.45" lengthAdjust="spacingAndGlyphs">East</text><text x="846.98" y="155.50" font-size="21.80" fill="#595959" textLength="90.43" lengthAdjust="spacingAndGlyphs">Midlands</text>
<line x1="1246.8" y1="148.5" x2="1297.3" y2="148.5" stroke="#ffff00" stroke-width="3" stroke-linecap="round"/>
<text x="1303.85" y="155.50" font-size="21.80" fill="#595959" textLength="40.34" lengthAdjust="spacingAndGlyphs">East</text><text x="1349.76" y="155.50" font-size="21.80" fill="#595959" textLength="19.91" lengthAdjust="spacingAndGlyphs">of</text><text x="1375.27" y="155.50" font-size="21.80" fill="#595959" textLength="77.59" lengthAdjust="spacingAndGlyphs">England</text>
<line x1="242.7" y1="177.5" x2="293.5" y2="177.5" stroke="#ff00ff" stroke-width="3" stroke-linecap="round"/>
<text x="298.72" y="183.70" font-size="21.80" fill="#595959" textLength="57.00" lengthAdjust="spacingAndGlyphs">South</text><text x="361.21" y="183.70" font-size="21.80" fill="#595959" textLength="40.14" lengthAdjust="spacingAndGlyphs">East</text>
<line x1="744.5" y1="177.5" x2="795.3" y2="177.5" stroke="#ff9900" stroke-width="3" stroke-linecap="round"/>
<text x="800.32" y="183.70" font-size="21.80" fill="#595959" textLength="57.23" lengthAdjust="spacingAndGlyphs">South</text><text x="863.06" y="183.70" font-size="21.80" fill="#595959" textLength="50.40" lengthAdjust="spacingAndGlyphs">West</text>
<line x1="1246.8" y1="177.5" x2="1297.3" y2="177.5" stroke="#ff0000" stroke-width="3" stroke-linecap="round"/>
<text x="1303.63" y="183.70" font-size="21.80" fill="#595959" textLength="72.89" lengthAdjust="spacingAndGlyphs">London</text>
<text x="828.89" y="1001.70" font-size="21.37" fill="#595959" font-weight="bold" textLength="53.40" lengthAdjust="spacingAndGlyphs">DATE</text><text x="887.54" y="1001.70" font-size="21.37" fill="#595959" font-weight="bold" textLength="27.77" lengthAdjust="spacingAndGlyphs">OF</text><text x="920.64" y="1001.70" font-size="21.37" fill="#595959" font-weight="bold" textLength="68.70" lengthAdjust="spacingAndGlyphs">DEATH</text>
<g transform="translate(41.8 785.8) rotate(-90)"><text x="-1.32" y="0.00" font-size="21.37" fill="#595959" font-weight="bold" textLength="59.16" lengthAdjust="spacingAndGlyphs">DAILY</text><text x="62.84" y="0.00" font-size="21.37" fill="#595959" font-weight="bold" textLength="79.75" lengthAdjust="spacingAndGlyphs">DEATHS</text><text x="148.10" y="0.00" font-size="21.37" fill="#595959" font-weight="bold" textLength="38.04" lengthAdjust="spacingAndGlyphs">PER</text><text x="191.53" y="0.00" font-size="21.37" fill="#595959" font-weight="bold" textLength="33.00" lengthAdjust="spacingAndGlyphs">1M</text><text x="230.00" y="0.00" font-size="21.37" fill="#595959" font-weight="bold" textLength="48.18" lengthAdjust="spacingAndGlyphs">POP.</text><text x="283.77" y="0.00" font-size="21.37" fill="#595959" font-weight="bold" textLength="26.28" lengthAdjust="spacingAndGlyphs">BY</text><text x="315.05" y="0.00" font-size="21.37" fill="#595959" font-weight="bold" textLength="53.17" lengthAdjust="spacingAndGlyphs">DATE</text><text x="373.46" y="0.00" font-size="21.37" fill="#595959" font-weight="bold" textLength="27.65" lengthAdjust="spacingAndGlyphs">OF</text><text x="406.43" y="0.00" font-size="21.37" fill="#595959" font-weight="bold" textLength="68.41" lengthAdjust="spacingAndGlyphs">DEATH</text></g>
<text x="20.46" y="1004.60" font-size="21.37" fill="#a6a6a6" font-weight="bold" textLength="36.58" lengthAdjust="spacingAndGlyphs">Vac</text><text x="62.15" y="1004.60" font-size="21.37" fill="#a6a6a6" font-weight="bold" textLength="46.53" lengthAdjust="spacingAndGlyphs">lines</text><text x="113.72" y="1004.60" font-size="21.37" fill="#a6a6a6" font-weight="bold" textLength="48.98" lengthAdjust="spacingAndGlyphs">refer</text><text x="168.09" y="1004.60" font-size="21.37" fill="#a6a6a6" font-weight="bold" textLength="21.45" lengthAdjust="spacingAndGlyphs">to</text><text x="194.92" y="1004.60" font-size="21.37" fill="#a6a6a6" font-weight="bold" textLength="17.30" lengthAdjust="spacingAndGlyphs">%</text><text x="217.62" y="1004.60" font-size="21.37" fill="#a6a6a6" font-weight="bold" textLength="20.50" lengthAdjust="spacingAndGlyphs">of</text><text x="243.66" y="1004.60" font-size="21.37" fill="#a6a6a6" font-weight="bold" textLength="36.72" lengthAdjust="spacingAndGlyphs">65+</text><text x="285.26" y="1004.60" font-size="21.37" fill="#a6a6a6" font-weight="bold" textLength="39.96" lengthAdjust="spacingAndGlyphs">first</text><text x="330.67" y="1004.60" font-size="21.37" fill="#a6a6a6" font-weight="bold" textLength="57.31" lengthAdjust="spacingAndGlyphs">doses</text><text x="393.16" y="1004.60" font-size="21.37" fill="#a6a6a6" font-weight="bold" textLength="41.36" lengthAdjust="spacingAndGlyphs">that</text><text x="440.01" y="1004.60" font-size="21.37" fill="#a6a6a6" font-weight="bold" textLength="48.19" lengthAdjust="spacingAndGlyphs">have</text><text x="493.65" y="1004.60" font-size="21.37" fill="#a6a6a6" font-weight="bold" textLength="43.54" lengthAdjust="spacingAndGlyphs">now</text><text x="542.73" y="1004.60" font-size="21.37" fill="#a6a6a6" font-weight="bold" textLength="37.57" lengthAdjust="spacingAndGlyphs">had</text><text x="585.86" y="1004.60" font-size="21.37" fill="#a6a6a6" font-weight="bold" textLength="37.81" lengthAdjust="spacingAndGlyphs">2nd</text><text x="629.04" y="1004.60" font-size="21.37" fill="#a6a6a6" font-weight="bold" textLength="53.98" lengthAdjust="spacingAndGlyphs">dose.</text>
<text x="1338.77" y="1006.90" font-size="26.02" fill="#a6a6a6" font-weight="bold" textLength="55.96" lengthAdjust="spacingAndGlyphs">Data</text><text x="1402.88" y="1006.90" font-size="26.02" fill="#a6a6a6" font-weight="bold" textLength="91.55" lengthAdjust="spacingAndGlyphs">Source:</text><text x="1500.33" y="1006.90" font-size="26.02" fill="#a6a6a6" font-weight="bold" textLength="294.95" lengthAdjust="spacingAndGlyphs">coronavirus.data.gov.uk</text>
<rect x="1" y="1" width="1814" height="1019" fill="none" stroke="#d9d9d9" stroke-width="2"/>
</svg></body></html>
